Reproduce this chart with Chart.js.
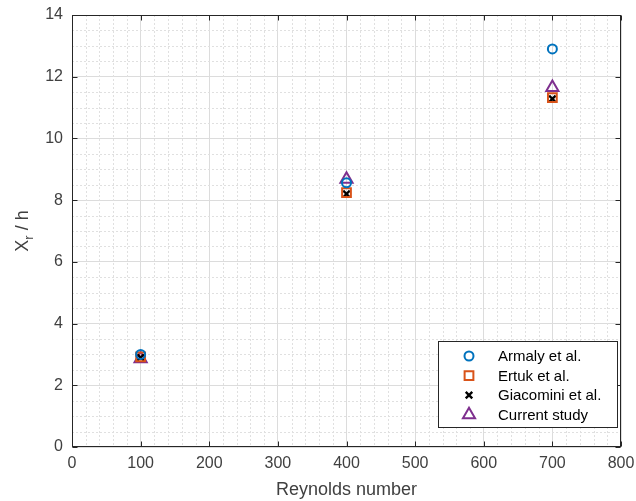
<!DOCTYPE html>
<html>
<head>
<meta charset="utf-8">
<script src="https://cdn.jsdelivr.net/npm/chart.js@4/dist/chart.umd.min.js"></script>
<style>
  html, body { margin: 0; padding: 0; background: #fff; }
  #wrap { width: 636px; height: 501px; }
</style>
</head>
<body>
<div id="wrap"><canvas id="reattach"></canvas></div>
<script>
// Reattachment length vs Reynolds number
const reynolds = [100, 400, 700];
const armaly = [3.0, 8.56, 12.9];
const ertuk = [2.92, 8.24, 11.32];
const giacomini = [2.9, 8.2, 11.28];
const current = [2.86, 8.68, 11.65];

const seriesNames = ["Armaly et al.", "Ertuk et al.", "Giacomini et al.", "Current study"];
const xTicks = [0, 100, 200, 300, 400, 500, 600, 700, 800];
const yTicks = [0, 2, 4, 6, 8, 10, 12, 14];

const axisColor = "#262626";
const labelColor = "#404040";

function points(vals) {
  return reynolds.map((re, i) => ({ x: re, y: vals[i] }));
}

function makeSet(label, vals, style, color, radius, width) {
  return {
    label: label,
    data: points(vals),
    pointStyle: style,
    pointRadius: radius,
    pointHoverRadius: radius,
    pointBorderWidth: width,
    pointHoverBorderWidth: width,
    borderColor: color,
    backgroundColor: "rgba(0,0,0,0)",
    showLine: false
  };
}

const datasets = [
  makeSet(seriesNames[0], armaly, "circle", "#0072BD", 4.5, 2),
  makeSet(seriesNames[1], ertuk, "rect", "#D95319", 6.2, 2),
  makeSet(seriesNames[2], giacomini, "crossRot", "#000000", 4.6, 2.4),
  makeSet(seriesNames[3], current, "triangle", "#7E2F8E", 7, 2)
];

// dotted minor grid, drawn under the markers
const minorGrid = {
  id: "minorGrid",
  beforeDatasetsDraw(chart) {
    const { ctx, chartArea: a, scales } = chart;
    ctx.save();
    ctx.strokeStyle = "#e0e0e0";
    ctx.lineWidth = 1;
    ctx.setLineDash([2, 2]);
    for (let v = 20; v < 800; v += 20) {
      if (v % 100 === 0) continue;
      const px = Math.round(scales.x.getPixelForValue(v)) + 0.5;
      ctx.beginPath();
      ctx.moveTo(px, a.top);
      ctx.lineTo(px, a.bottom);
      ctx.stroke();
    }
    for (let v = 0.5; v < 14; v += 0.5) {
      if (v % 2 === 0) continue;
      const py = Math.round(scales.y.getPixelForValue(v)) + 0.5;
      ctx.beginPath();
      ctx.moveTo(a.left, py);
      ctx.lineTo(a.right, py);
      ctx.stroke();
    }
    ctx.restore();
  }
};

// box around the axes with inward tick marks on all four sides
const axesBox = {
  id: "axesBox",
  afterDatasetsDraw(chart) {
    const { ctx, chartArea: a, scales } = chart;
    const L = Math.round(a.left) + 0.5, R = Math.round(a.right) - 0.5;
    const T = Math.round(a.top) + 0.5, B = Math.round(a.bottom) - 0.5;
    ctx.save();
    ctx.strokeStyle = axisColor;
    ctx.lineWidth = 1;
    ctx.strokeRect(L, T, R - L, B - T);
    const len = 5;
    ctx.beginPath();
    xTicks.forEach(v => {
      const px = Math.round(scales.x.getPixelForValue(v)) + 0.5;
      ctx.moveTo(px, B); ctx.lineTo(px, B - len);
      ctx.moveTo(px, T); ctx.lineTo(px, T + len);
    });
    yTicks.forEach(v => {
      const py = Math.round(scales.y.getPixelForValue(v)) + 0.5;
      ctx.moveTo(L, py); ctx.lineTo(L + len, py);
      ctx.moveTo(R, py); ctx.lineTo(R - len, py);
    });
    ctx.stroke();
    ctx.restore();
  }
};

// y title with subscript, and the boxed legend in the lower right
const extras = {
  id: "extras",
  afterDraw(chart) {
    const { ctx, chartArea: a } = chart;
    ctx.save();

    // "X_r / h"
    ctx.translate(23, (a.top + a.bottom) / 2);
    ctx.rotate(-Math.PI / 2);
    ctx.fillStyle = labelColor;
    ctx.textBaseline = "middle";
    const big = "18px 'Liberation Sans', Arial, sans-serif";
    const small = "13px 'Liberation Sans', Arial, sans-serif";
    ctx.font = big;
    const wX = ctx.measureText("X").width;
    const wRest = ctx.measureText(" / h").width;
    ctx.font = small;
    const wR = ctx.measureText("r").width;
    let x0 = -(wX + wR + wRest) / 2;
    ctx.font = big;
    ctx.textAlign = "left";
    ctx.fillText("X", x0, 0);
    ctx.font = small;
    ctx.fillText("r", x0 + wX, 6);
    ctx.font = big;
    ctx.fillText(" / h", x0 + wX + wR, 0);
    ctx.restore();

    // legend
    const bx = 438.5, by = 341.5, bw = 179, bh = 86;
    ctx.save();
    ctx.fillStyle = "#ffffff";
    ctx.fillRect(bx, by, bw, bh);
    ctx.strokeStyle = axisColor;
    ctx.lineWidth = 1;
    ctx.strokeRect(bx, by, bw, bh);
    ctx.font = "15px 'Liberation Sans', Arial, sans-serif";
    ctx.textBaseline = "middle";
    ctx.textAlign = "left";
    chart.data.datasets.forEach((ds, i) => {
      const y = 356 + i * 19.6;
      ctx.strokeStyle = ds.borderColor;
      ctx.fillStyle = "rgba(0,0,0,0)";
      ctx.lineWidth = ds.pointBorderWidth;
      Chart.helpers.drawPoint(ctx, {
        pointStyle: ds.pointStyle,
        radius: ds.pointRadius,
        rotation: 0,
        borderWidth: ds.pointBorderWidth
      }, 469, y);
      ctx.fillStyle = "#000000";
      ctx.fillText(ds.label, 498, y + 1);
    });
    ctx.restore();
  }
};

new Chart(document.getElementById("reattach"), {
  type: "scatter",
  data: { datasets: datasets },
  options: {
    responsive: true,
    maintainAspectRatio: false,
    animation: false,
    layout: { padding: { top: 15, right: 15, left: 0, bottom: 0 } },
    plugins: {
      legend: { display: false },
      tooltip: { enabled: false }
    },
    scales: {
      x: {
        type: "linear",
        min: 0,
        max: 800,
        afterBuildTicks: (s) => { s.ticks = xTicks.map(v => ({ value: v })); },
        ticks: {
          color: labelColor,
          padding: 7,
          maxRotation: 0,
          font: { family: "'Liberation Sans', Arial, sans-serif", size: 16 }
        },
        grid: { color: "#dcdcdc", drawTicks: false },
        border: { display: false },
        title: {
          display: true,
          text: "Reynolds number",
          color: labelColor,
          padding: { top: 1, bottom: 0 },
          font: { family: "'Liberation Sans', Arial, sans-serif", size: 18 }
        },
        afterFit: (s) => {
          s.height = 54;
          s.paddingLeft = 0;
          s.paddingRight = 0;
        }
      },
      y: {
        type: "linear",
        min: 0,
        max: 14,
        afterBuildTicks: (s) => { s.ticks = yTicks.map(v => ({ value: v })); },
        ticks: {
          color: labelColor,
          padding: 9,
          font: { family: "'Liberation Sans', Arial, sans-serif", size: 16 }
        },
        grid: { color: "#dcdcdc", drawTicks: false },
        border: { display: false },
        afterFit: (s) => {
          s.width = 72;
          s.paddingTop = 0;
          s.paddingBottom = 0;
        }
      }
    }
  },
  plugins: [minorGrid, axesBox, extras]
});
</script>
</body>
</html>
